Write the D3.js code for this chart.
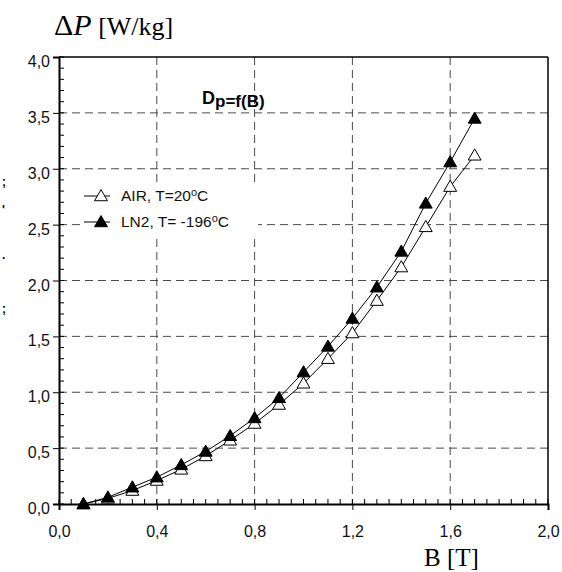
<!DOCTYPE html>
<html>
<head>
<meta charset="utf-8">
<script src="https://cdn.jsdelivr.net/npm/d3@7"></script>
<style>
body { margin: 0; background: #fff; }
</style>
</head>
<body>
<div id="chart"></div>
<script>
// data
var bValues = [0.1, 0.2, 0.3, 0.4, 0.5, 0.6, 0.7, 0.8, 0.9, 1.0, 1.1, 1.2, 1.3, 1.4, 1.5, 1.6, 1.7]
var airLoss = [0.0, 0.05, 0.12, 0.21, 0.31, 0.43, 0.57, 0.72, 0.89, 1.08, 1.30, 1.53, 1.82, 2.12, 2.48, 2.84, 3.12]
var ln2Loss = [0.0, 0.06, 0.15, 0.24, 0.35, 0.47, 0.61, 0.77, 0.95, 1.18, 1.41, 1.66, 1.94, 2.26, 2.69, 3.06, 3.45]
var xTicks = [0, 0.4, 0.8, 1.2, 1.6, 2.0]
var yTicks = [0, 0.5, 1.0, 1.5, 2.0, 2.5, 3.0, 3.5, 4.0]
var seriesNames = ["AIR, T=20", "LN2, T= -196"]

var width = 562, height = 572
var plotL = 59, plotR = 548, plotT = 57, plotB = 504
var sans = "Arial, 'Liberation Sans', sans-serif"
var serif = "'Liberation Serif', 'Times New Roman', serif"

var svg = d3.select("#chart").append("svg")
	.attr("width", width).attr("height", height)
	.style("font-family", sans)

var x = d3.scaleLinear().domain([0, 2]).range([plotL, plotR])
var y = d3.scaleLinear().domain([0, 4]).range([plotB, plotT])

var fmt = function(d){ return d3.format(".1f")(d).replace(".", ",") }

// grid
var grid = svg.append("g").attr("stroke", "#4a4a4a").attr("stroke-width", 1)
	.attr("stroke-dasharray", "8,5")
grid.selectAll("line.gx").data(xTicks.slice(1, -1)).enter().append("line")
	.attr("x1", d => x(d)).attr("x2", d => x(d))
	.attr("y1", plotT).attr("y2", plotB)
grid.selectAll("line.gy").data(yTicks.slice(1, -1)).enter().append("line")
	.attr("y1", d => y(d)).attr("y2", d => y(d))
	.attr("x1", plotL).attr("x2", plotR)

// frame top / right
svg.append("line").attr("x1", plotL).attr("x2", plotR).attr("y1", plotT).attr("y2", plotT)
	.attr("stroke", "#000").attr("stroke-width", 1.5)
svg.append("line").attr("x1", plotR).attr("x2", plotR).attr("y1", plotT).attr("y2", plotB)
	.attr("stroke", "#000").attr("stroke-width", 1.5)

// minor ticks (inward)
var xMinor = d3.range(0, 2.0001, 0.05)
var yMinor = d3.range(0, 4.0001, 0.1)
var ticks = svg.append("g").attr("stroke", "#000").attr("stroke-width", 1)
ticks.selectAll("line.mx").data(xMinor).enter().append("line")
	.attr("x1", d => x(d)).attr("x2", d => x(d))
	.attr("y1", plotB).attr("y2", plotB - 5)
ticks.selectAll("line.my").data(yMinor).enter().append("line")
	.attr("y1", d => y(d)).attr("y2", d => y(d))
	.attr("x1", plotL).attr("x2", plotL + 5)

// axes
var xAxis = svg.append("g").attr("transform", "translate(0," + plotB + ")")
	.call(d3.axisBottom(x).tickValues(xTicks).tickFormat(fmt).tickSize(6).tickPadding(16))
var yAxis = svg.append("g").attr("transform", "translate(" + plotL + ",0)")
	.call(d3.axisLeft(y).tickValues(yTicks).tickFormat(fmt).tickSize(6).tickPadding(3))
;[xAxis, yAxis].forEach(function(a){
	a.attr("font-family", null).attr("font-size", null)
	a.select(".domain").attr("stroke-width", 2)
	a.selectAll("text").style("font-size", "16px").attr("fill", "#111")
})
yAxis.selectAll("text").attr("dy", "0.6em")

// lines + markers
var line = d3.line().x(d => x(d[0])).y(d => y(d[1]))
var tri = d3.symbol().type(d3.symbolTriangle).size(72)
var series = [
	{ vals: airLoss, fill: "#fff" },
	{ vals: ln2Loss, fill: "#000" }
]
series.forEach(function(s){
	var pts = bValues.map((b, i) => [b, s.vals[i]])
	svg.append("path").datum(pts)
		.attr("d", line)
		.attr("fill", "none").attr("stroke", "#000").attr("stroke-width", 1)
	svg.selectAll(null).data(pts).enter().append("path")
		.attr("d", tri)
		.attr("transform", d => "translate(" + x(d[0]) + "," + (y(d[1]) + 1) + ")")
		.attr("fill", s.fill).attr("stroke", "#000").attr("stroke-width", 1)
})

// legend
svg.append("rect").attr("x", 82).attr("y", 182).attr("width", 176).attr("height", 56)
	.attr("fill", "#fff")
var legend = svg.append("g")
seriesNames.forEach(function(name, i){
	var ly = 196 + i * 26
	legend.append("line").attr("x1", 84).attr("x2", 110).attr("y1", ly).attr("y2", ly)
		.attr("stroke", "#000").attr("stroke-width", 1)
	legend.append("path").attr("d", tri)
		.attr("transform", "translate(101," + (ly + 1) + ")")
		.attr("fill", series[i].fill).attr("stroke", "#000")
	var t = legend.append("text").attr("x", 121).attr("y", ly + 5)
		.style("font-size", "15.5px").attr("fill", "#111")
	t.append("tspan").text(name)
	t.append("tspan").attr("dy", -5).style("font-size", "11px").text("o")
	t.append("tspan").attr("dy", 5).text("C")
})

// annotation
var ann = svg.append("text").attr("x", 202).attr("y", 104)
	.style("font-size", "18px").attr("font-weight", "bold").attr("fill", "#000")
ann.append("tspan").text("D")
ann.append("tspan").attr("dy", 3).style("font-size", "17px").text("p=f(B)")

// axis titles
var yt = svg.append("text").attr("x", 54).attr("y", 35)
	.style("font-family", serif).attr("fill", "#000")
yt.append("tspan").style("font-size", "30px").text("Δ")
yt.append("tspan").style("font-size", "30px").attr("font-style", "italic").text("P")
yt.append("tspan").style("font-size", "26px").text(" [W/kg]")

svg.append("text").attr("x", 424).attr("y", 566)
	.style("font-family", serif)
	.style("font-size", "25px").attr("fill", "#000").text("B [T]")

// clipped leftover marks at the left edge
var stray = [[186, ";"], [214, "'"], [259, "."], [313, ";"]]
svg.selectAll(null).data(stray).enter().append("text")
	.attr("x", 2).attr("y", d => d[0])
	.style("font-size", "12px").attr("font-weight", "bold").attr("fill", "#000")
	.text(d => d[1])
</script>
</body>
</html>
